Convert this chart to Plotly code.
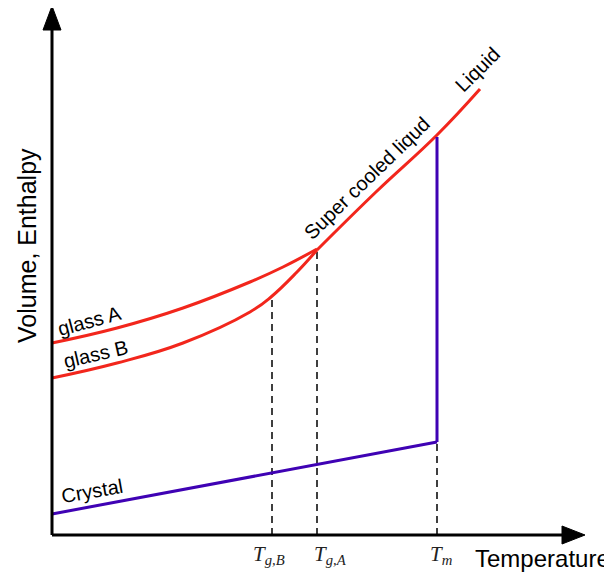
import plotly.graph_objects as go

# Data (temperature T, enthalpy H in arbitrary units)
crystal_T = [0, 385]
crystal_H = [21, 93]
melt_T = [385, 385]
melt_H = [93, 398]
liquid_T = [265, 325, 385, 428]
liquid_H = [285, 344, 400, 446]
glassA_T = [0, 65, 131, 198, 231, 265]
glassA_H = [192, 207, 227, 253, 268, 286]
glassB_T = [0, 65, 131, 198, 219, 245, 265]
glassB_H = [157, 172, 192, 223, 238, 263, 285]
tick_T = [220, 265, 385]
tick_H = [238, 285, 93]
tick_labels = ["<i>T</i><sub><i>g,B</i></sub>", "<i>T</i><sub><i>g,A</i></sub>", "<i>T</i><sub><i>m</i></sub>"]
tick_label_T = [217, 278, 389]

RED = "#f2261c"
BLUE = "#3f02b4"

fig = go.Figure()

# dashed guide lines
for t, h in zip(tick_T, tick_H):
    fig.add_trace(go.Scatter(x=[t, t], y=[0, h], mode="lines",
                             line=dict(color="black", width=1.5, dash="7px,5px"),
                             hoverinfo="skip"))

for xs, ys in [(glassA_T, glassA_H), (glassB_T, glassB_H), (liquid_T, liquid_H)]:
    fig.add_trace(go.Scatter(x=xs, y=ys, mode="lines",
                             line=dict(color=RED, width=3, shape="spline", smoothing=1.2)))
fig.add_trace(go.Scatter(x=crystal_T, y=crystal_H, mode="lines",
                         line=dict(color=BLUE, width=3)))
fig.add_trace(go.Scatter(x=melt_T, y=melt_H, mode="lines",
                         line=dict(color=BLUE, width=3)))

# axes with arrowheads
shapes = [
    dict(type="line", x0=0, y0=0, x1=512, y1=0, line=dict(color="black", width=3)),
    dict(type="line", x0=0, y0=0, x1=0, y1=507, line=dict(color="black", width=3)),
    dict(type="path", path="M 510,-9 L 533,0 L 510,9 Z", fillcolor="black",
         line=dict(color="black", width=1)),
    dict(type="path", path="M -9,505 L 0,529 L 9,505 Z", fillcolor="black",
         line=dict(color="black", width=1)),
]

annotations = []
for lab, t in zip(tick_labels, tick_label_T):
    annotations.append(dict(x=t, y=-20, text=lab, showarrow=False,
                            font=dict(family="Liberation Serif", size=21, color="#222")))

annotations += [
    dict(x=490, y=-23, text="Temperature", showarrow=False,
         font=dict(family="Liberation Sans", size=24, color="black")),
    dict(x=-25, y=289, text="Volume, Enthalpy", showarrow=False, textangle=-90,
         font=dict(family="Liberation Sans", size=25, color="black")),
    dict(x=37, y=214, text="glass A", showarrow=False, textangle=-15,
         font=dict(family="Liberation Sans", size=20, color="black")),
    dict(x=44, y=181, text="glass B", showarrow=False, textangle=-13,
         font=dict(family="Liberation Sans", size=20, color="black")),
    dict(x=40, y=44, text="Crystal", showarrow=False, textangle=-10,
         font=dict(family="Liberation Sans", size=20, color="black")),
    dict(x=315, y=357, text="Super cooled liqud", showarrow=False, textangle=-44,
         font=dict(family="Liberation Sans", size=20, color="black")),
    dict(x=425, y=465, text="Liquid", showarrow=False, textangle=-45,
         font=dict(family="Liberation Sans", size=20, color="black")),
]

fig.update_layout(
    width=604, height=567,
    margin=dict(l=0, r=0, t=0, b=0),
    paper_bgcolor="white", plot_bgcolor="white",
    showlegend=False,
    xaxis=dict(range=[-44, 560], visible=False, fixedrange=True),
    yaxis=dict(range=[-40, 527], visible=False, fixedrange=True),
    shapes=shapes,
    annotations=annotations,
)

fig.write_html("out.html")
